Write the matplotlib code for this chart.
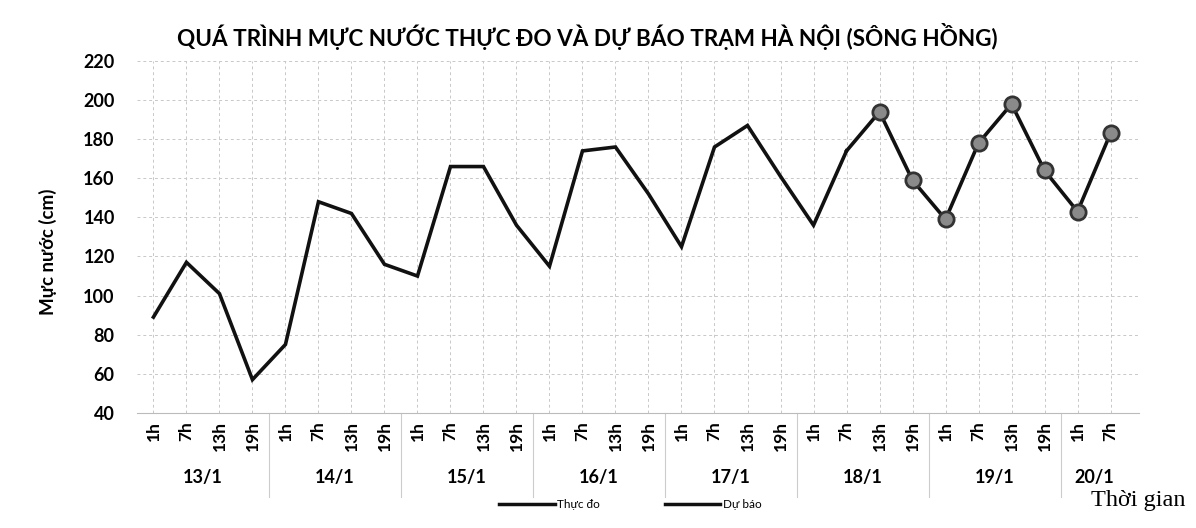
import matplotlib
matplotlib.use("Agg")
import matplotlib.pyplot as plt
from matplotlib.lines import Line2D
import numpy as np

plt.rcParams['font.family'] = ['Lato', 'DejaVu Sans']

days = ["13/1", "14/1", "15/1", "16/1", "17/1", "18/1", "19/1", "20/1"]
hours = ["1h", "7h", "13h", "19h"]
hour_labels = hours * 7 + ["1h", "7h"]

observed = [89, 117, 101, 57,
            75, 148, 142, 116,
            110, 166, 166, 136,
            115, 174, 176, 152,
            125, 176, 187, 161,
            136, 174]
forecast = [194, 159, 139, 178, 198, 164, 143, 183]

n = len(hour_labels)
x = np.arange(n)
x_obs = x[:len(observed)]
x_fc = x[n - len(forecast):]

fig = plt.figure(figsize=(11.96, 5.28), dpi=100)
ax = fig.add_axes([0.1145, 0.218, 0.8375, 0.6665])

ax.set_xlim(-0.5, n - 0.5 + 0.35)
ax.set_ylim(40, 220)
ax.set_yticks(range(40, 221, 20))
ax.grid(True, color='#c8c8c8', linestyle=(0, (3, 3)), linewidth=0.7)
ax.set_axisbelow(True)
ax.set_xticks(x)
ax.set_xticklabels(hour_labels, rotation=90, fontsize=12.5, fontweight='bold')
ax.tick_params(axis='x', length=0, pad=6)
ax.tick_params(axis='y', length=0, labelsize=13, pad=16)
for lb in ax.get_yticklabels():
    lb.set_fontweight('bold')
for s in ['top', 'right', 'left']:
    ax.spines[s].set_visible(False)
ax.spines['bottom'].set_color('#bbbbbb')

# connect observed to forecast
ax.plot([x_obs[-1], x_fc[0]], [observed[-1], forecast[0]], color='#111111', lw=2.6, solid_joinstyle='miter')
ax.plot(x_obs, observed, color='#111111', lw=2.6, solid_joinstyle='miter')
ax.plot(x_fc, forecast, color='#111111', lw=2.6, marker='o', markersize=11,
        markerfacecolor='#8a8a8a', markeredgecolor='#333333', markeredgewidth=2)

# group separators and day labels
trans = ax.get_xaxis_transform()
for i in range(1, len(days)):
    xs = i * 4 - 0.5
    ax.plot([xs, xs], [0, -0.24], transform=trans, color='#cccccc', lw=0.8, clip_on=False)
for i, d in enumerate(days):
    start = i * 4
    end = min(start + 4, n)
    cx = (start + end - 1) / 2
    ax.text(cx, -0.185, d, transform=trans, ha='center', va='center',
            fontsize=13, fontweight='bold')

fig.text(0.991, 0.052, "Thời gian", ha='right', va='center',
         fontsize=17.5, fontfamily=['Liberation Serif', 'DejaVu Serif'])
fig.text(0.491, 0.93, "QUÁ TRÌNH MỰC NƯỚC THỰC ĐO VÀ DỰ BÁO TRẠM HÀ NỘI (SÔNG HỒNG)",
         ha='center', va='center', fontsize=16.2, fontweight='bold')
fig.text(0.040, 0.523, "Mực nước (cm)", rotation=90, ha='center', va='center',
         fontsize=13.5, fontweight='bold')

handles = [Line2D([], [], color='#111111', lw=2.5), Line2D([], [], color='#111111', lw=2.5)]
fig.legend(handles, ["Thực đo", "Dự báo"], loc='center', bbox_to_anchor=(0.527, 0.045),
           ncol=2, frameon=False, fontsize=8.5, handlelength=4.7, columnspacing=5.5,
           handletextpad=0.2)

fig.savefig("out.png", dpi=100)
